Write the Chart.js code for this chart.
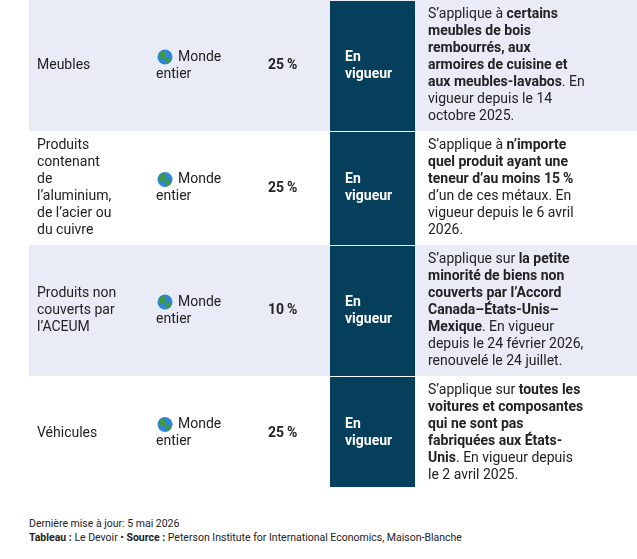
<!DOCTYPE html>
<html>
<head>
<meta charset="utf-8">
<script src="https://cdn.jsdelivr.net/npm/chart.js@4.4.1/dist/chart.umd.min.js"></script>
<style>
  body { margin: 0; background: #fff; font-family: Roboto, sans-serif; }
  #wrap { position: relative; width: 637px; height: 487px; }
  .foot { position: absolute; left: 29px; font-size: 10.5px; color: #222; }
  b { font-weight: 700; }
</style>
</head>
<body>
<div id="wrap"><canvas id="table" width="637" height="487" style="width:637px;height:487px"></canvas></div>
<div class="foot" style="top:517px">Dernière mise à jour: 5 mai 2026</div>
<div class="foot" style="top:531px"><b>Tableau :</b> Le Devoir • <b>Source :</b> Peterson Institute for International Economics, Maison-Blanche</div>
<script>
// table content, one entry per row
const products = [
    ['Meubles'],
    ['Produits', 'contenant', 'de', 'l\u2019aluminium,', 'de l\u2019acier ou', 'du cuivre'],
    ['Produits non', 'couverts par', 'l\u2019ACEUM'],
    ['Véhicules']
]
const regions = ['Monde entier', 'Monde entier', 'Monde entier', 'Monde entier']
const rates = [25, 25, 10, 25]
const statuses = ['En vigueur', 'En vigueur', 'En vigueur', 'En vigueur']
// description lines, each a list of [text, bold]
const descriptions = [
    [[['S\u2019applique à ', 0], ['certains', 1]], [['meubles de bois', 1]], [['rembourrés, aux', 1]],
     [['armoires de cuisine et', 1]], [['aux meubles-lavabos', 1], ['. En', 0]],
     [['vigueur depuis le 14', 0]], [['octobre 2025.', 0]]],
    [[['S\u2019applique à ', 0], ['n\u2019importe', 1]], [['quel produit ayant une', 1]], [['teneur d\u2019au moins 15\u2009%', 1]],
     [['d\u2019un de ces métaux. En', 0]], [['vigueur depuis le 6 avril', 0]], [['2026.', 0]]],
    [[['S\u2019applique sur ', 0], ['la petite', 1]], [['minorité de biens non', 1]], [['couverts par l\u2019Accord', 1]],
     [['Canada–États-Unis–', 1]], [['Mexique', 1], ['. En vigueur', 0]],
     [['depuis le 24 février 2026,', 0]], [['renouvelé le 24 juillet.', 0]]],
    [[['S\u2019applique sur ', 0], ['toutes les', 1]], [['voitures et composantes', 1]], [['qui ne sont pas', 1]],
     [['fabriquées aux États-', 1]], [['Unis', 1], ['. En vigueur depuis', 0]], [['le 2 avril 2025.', 0]]]
]

const LINE = 17
const rowLines = descriptions.map((d, i) => Math.max(d.length, products[i].length))
const rowHeights = rowLines.map(n => n * LINE + 12)
const rowTops = rowHeights.map((h, i) => rowHeights.slice(0, i).reduce((a, b) => a + b, 0))
const totalH = 487

// column x positions in table units
const cols = { left: 29, product: 37, region: 156, rate: 268, statusL: 330, statusR: 415, desc: 428, right: 637 }

const tablePlugin = {
    id: 'tableDraw',
    beforeDatasetsDraw(chart) {
        const { ctx, scales: { x, y } } = chart
        const font = (b) => (b ? '700 ' : '400 ') + '14px Roboto, sans-serif'
        const px = (v) => x.getPixelForValue(v)
        const py = (v) => y.getPixelForValue(v)
        ctx.save()
        ctx.textBaseline = 'middle'
        rowHeights.forEach((h, i) => {
            const top = py(rowTops[i]), bot = py(rowTops[i] + h)
            const mid = (top + bot) / 2
            if (i % 2 === 0) {
                ctx.fillStyle = '#e9ecf6'
                ctx.fillRect(px(cols.left), top, px(cols.right) - px(cols.left), bot - top)
            }
            // status column
            ctx.fillStyle = '#053f5c'
            ctx.fillRect(px(cols.statusL), top + 1, px(cols.statusR) - px(cols.statusL), bot - top - 1)
            ctx.fillStyle = '#222'
            // product
            ctx.font = font(0)
            const p = products[i]
            p.forEach((t, k) => ctx.fillText(t, px(cols.product), mid + (k - (p.length - 1) / 2) * LINE))
            // region with globe
            const [w1, w2] = regions[i].split(' ')
            const gy = mid - LINE / 2
            const gx = px(cols.region) + 9
            ctx.beginPath(); ctx.arc(gx, gy, 7.5, 0, Math.PI * 2)
            ctx.fillStyle = '#2f86d8'; ctx.fill()
            ctx.fillStyle = '#3f9b3a'
            ctx.beginPath(); ctx.ellipse(gx - 2.5, gy - 2, 3, 4, 0.4, 0, Math.PI * 2); ctx.fill()
            ctx.beginPath(); ctx.ellipse(gx + 3, gy + 3, 2.5, 3, -0.3, 0, Math.PI * 2); ctx.fill()
            ctx.fillStyle = '#222'
            ctx.fillText(w1, px(cols.region) + 22, gy)
            ctx.fillText(w2, px(cols.region), mid + LINE / 2)
            // rate
            ctx.font = font(1)
            ctx.fillText(rates[i] + '\u2009%', px(cols.rate), mid)
            // status
            ctx.fillStyle = '#fff'
            const [s1, s2] = statuses[i].split(' ')
            ctx.fillText(s1, px(cols.statusL) + 15, mid - LINE / 2)
            ctx.fillText(s2, px(cols.statusL) + 15, mid + LINE / 2)
            // description
            ctx.fillStyle = '#222'
            const d = descriptions[i]
            d.forEach((line, k) => {
                let cx = px(cols.desc)
                const ly = mid + (k - (d.length - 1) / 2) * LINE
                line.forEach(([t, b]) => {
                    ctx.font = font(b)
                    ctx.fillText(t, cx, ly)
                    cx += ctx.measureText(t).width
                })
            })
        })
        ctx.restore()
    }
}

new Chart(document.getElementById('table'), {
    type: 'scatter',
    data: { datasets: [{ data: [] }] },
    options: {
        responsive: false,
        animation: false,
        layout: { padding: 0 },
        scales: {
            x: { type: 'linear', min: 0, max: 637, display: false },
            y: { type: 'linear', min: 0, max: totalH, reverse: true, display: false }
        },
        plugins: { legend: { display: false }, tooltip: { enabled: false } }
    },
    plugins: [tablePlugin]
})
</script>
</body>
</html>
